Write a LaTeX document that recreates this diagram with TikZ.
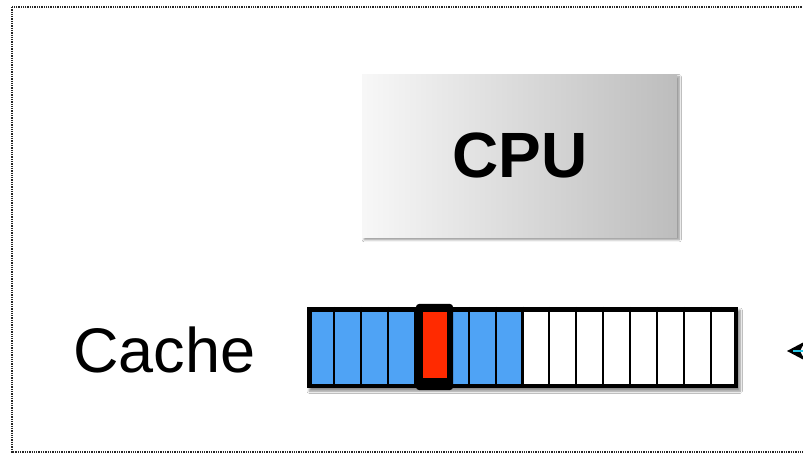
\documentclass[tikz,border=0pt]{standalone}
\usepackage{fontspec}
\setmainfont{Liberation Sans}
\usetikzlibrary{shadows.blur,arrows.meta}
\definecolor{cellblue}{RGB}{79,163,245}
\definecolor{cellred}{RGB}{255,42,0}
\definecolor{linkcyan}{RGB}{40,200,230}
\tikzset{
  frame/.style={densely dotted, line width=1.3pt, black!85},
  cpubox/.style={draw=none, left color=black!3, right color=black!26, shading angle=90,
    blur shadow={shadow xshift=2pt, shadow yshift=-2.5pt, shadow blur steps=8, shadow opacity=45}},
  cachebar/.style={draw=none, fill=white,
    blur shadow={shadow xshift=2pt, shadow yshift=-3pt, shadow blur steps=8, shadow opacity=45}},
  divider/.style={line width=2pt, black},
  label/.style={font=\fontsize{63}{63}\selectfont, inner sep=0pt},
}
\begin{document}
\begin{tikzpicture}[x=1pt,y=-1pt]
  \useasboundingbox (0,0) rectangle (803,454);
  \fill[white] (0,0) rectangle (803,454);
  \clip (0,0) rectangle (803,454);

  % outer dotted frame
  \draw[frame] (12,7) rectangle (830,452);

  % processor
  \node[cpubox, minimum width=315pt, minimum height=163pt, anchor=north west,
        font=\fontsize{64}{64}\selectfont\bfseries] (cpu) at (362,74) {CPU};

  % cache label
  \node[label, anchor=base west] (cachelbl) at (73,372) {Cache};

  % cache line of 16 slots
  \node[cachebar, minimum width=431pt, minimum height=81pt, anchor=north west, inner sep=0pt] (cache) at (307,307) {};
  \fill[cellblue] (cache.north west) rectangle ([xshift=215pt]cache.south west);
  \foreach \i in {1,...,15} {
    \draw[divider] ([xshift=\i*26.94pt]cache.north west) -- ([xshift=\i*26.94pt]cache.south west);
  }
  \draw[divider, line width=3pt] ([xshift=215pt]cache.north west) -- ([xshift=215pt]cache.south west);
  \draw[draw=black, line width=4.5pt]
    ([xshift=2.25pt,yshift=-2.25pt]cache.north west) rectangle ([xshift=-2.25pt,yshift=2.25pt]cache.south east);

  % accessed slot
  \fill[black, rounded corners=3pt] (416,304) rectangle (453,390);
  \node[fill=cellred, draw=none, inner sep=0pt, minimum width=24pt, minimum height=66pt, anchor=north west] (hot) at (423,312) {};

  % incoming link from the right
  \coordinate (linkstart) at (830,351);
  \coordinate (linkend) at (787,351);
  \draw[linkcyan, line width=2.5pt] (linkstart) -- ([xshift=6pt]linkend);
  \fill[black] (linkend) -- ++(18,-9.5) -- ++(-5,9.5) -- ++(5,9.5) -- cycle;
  \draw[linkcyan, line width=2pt] ([xshift=6pt]linkend) -- ++(12,0);
\end{tikzpicture}
\end{document}
